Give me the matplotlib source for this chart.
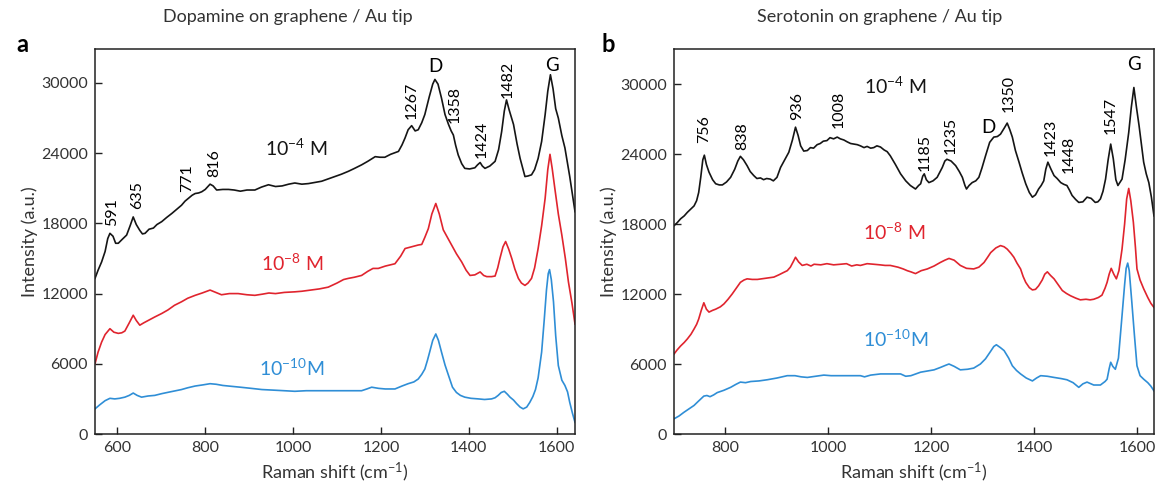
import matplotlib
matplotlib.use('Agg')
import matplotlib.pyplot as plt

plt.rcParams['font.family'] = ['Lato', 'DejaVu Sans']
plt.rcParams['mathtext.fontset'] = 'custom'
plt.rcParams['mathtext.rm'] = 'Lato'
plt.rcParams['mathtext.it'] = 'Lato'
plt.rcParams['mathtext.default'] = 'regular'

BLACK = '#151515'
RED = '#e0242e'
BLUE = '#2f8ed6'

# ---- panel a: dopamine ----
dopa_x_hi = [549, 556, 564, 572, 578, 583, 590, 596, 602, 610, 621, 629, 636, 643, 651, 657, 663,
             672, 682, 690, 701, 712, 724, 735, 746, 754, 762, 770, 777, 785, 792, 800, 811, 818,
             826, 840, 853, 866, 880, 895, 913, 928, 944, 960, 975, 990, 1004, 1020, 1035, 1050,
             1065, 1080, 1095, 1110, 1126, 1140, 1156, 1170, 1187, 1198, 1209, 1222, 1240, 1248,
             1255, 1262, 1270, 1278, 1285, 1293, 1300, 1310, 1318, 1323, 1330, 1338, 1346, 1354,
             1360, 1365, 1370, 1376, 1384, 1391, 1402, 1414, 1420, 1426, 1431, 1437, 1448, 1460,
             1468, 1475, 1481, 1486, 1492, 1502, 1510, 1517, 1528, 1535, 1543, 1550, 1558, 1566,
             1574, 1580, 1586, 1592, 1598, 1604, 1612, 1619, 1630, 1642]
dopa_y_hi = [13300, 14000, 14700, 15600, 16700, 17150, 16900, 16300, 16300, 16600, 17000, 17800,
             18550, 17900, 17400, 17100, 17150, 17500, 17600, 17900, 18150, 18500, 18850, 19200,
             19550, 19900, 20150, 20400, 20550, 20600, 20700, 20900, 21350, 21200, 20850, 20900,
             20900, 20850, 20750, 20850, 20850, 21100, 21300, 21150, 21200, 21350, 21450, 21350,
             21400, 21500, 21600, 21800, 22000, 22200, 22450, 22700, 23000, 23300, 23700, 23650,
             23650, 23900, 24150, 24700, 25300, 26000, 26350, 25900, 26000, 26600, 27300, 28800,
             29900, 30300, 29900, 28700, 27300, 26450, 25900, 25550, 24700, 23850, 23100, 22700,
             22650, 22750, 23000, 23200, 22900, 22700, 22900, 23300, 24300, 25850, 27600, 28550,
             27700, 26450, 24800, 23550, 22000, 22050, 22150, 22600, 23550, 25000, 27300, 29300,
             30700, 29500, 27800, 27000, 25500, 24450, 22000, 19000]

dopa_x_mid = [549, 556, 564, 572, 583, 592, 602, 610, 617, 627, 636, 643, 651, 660, 670, 685, 701,
              715, 730, 746, 760, 777, 793, 811, 824, 837, 855, 875, 895, 913, 930, 945, 960, 980,
              1004, 1020, 1040, 1060, 1080, 1100, 1115, 1126, 1140, 1156, 1170, 1182, 1194, 1210,
              1232, 1245, 1255, 1270, 1285, 1293, 1300, 1308, 1316, 1325, 1333, 1342, 1350, 1361,
              1372, 1384, 1394, 1403, 1414, 1426, 1434, 1441, 1452, 1460, 1466, 1471, 1478, 1484,
              1491, 1498, 1505, 1513, 1520, 1528, 1535, 1543, 1550, 1558, 1566, 1574, 1580, 1585,
              1590, 1596, 1604, 1612, 1620, 1627, 1635, 1642]
dopa_y_mid = [6000, 7000, 7850, 8500, 9000, 8700, 8600, 8650, 8800, 9500, 10150, 9700, 9300, 9500,
              9700, 10000, 10300, 10600, 11000, 11300, 11600, 11850, 12050, 12300, 12100, 11900,
              12000, 12000, 11900, 11850, 11950, 12050, 12000, 12100, 12150, 12200, 12300, 12400,
              12550, 12900, 13200, 13300, 13400, 13550, 13900, 14150, 14150, 14350, 14550, 15200,
              15850, 16000, 16150, 16200, 16800, 17550, 18800, 19700, 18800, 17450, 16900, 16150,
              15400, 14700, 14000, 13550, 13600, 13850, 13550, 13450, 13450, 13500, 14200, 15000,
              16000, 16450, 15800, 15000, 14100, 13300, 12900, 12700, 12900, 13300, 14200, 15850,
              17800, 20150, 22600, 23900, 22700, 21000, 18800, 17000, 15000, 13000, 11200, 9400]

dopa_x_lo = [549, 560, 572, 583, 594, 605, 617, 627, 636, 645, 655, 670, 685, 701, 720, 746, 760,
             777, 795, 811, 825, 840, 853, 880, 905, 929, 955, 980, 1004, 1030, 1055, 1080, 1105,
             1130, 1156, 1168, 1179, 1195, 1210, 1232, 1248, 1262, 1275, 1285, 1293, 1300, 1306,
             1311, 1318, 1325, 1331, 1338, 1346, 1354, 1363, 1372, 1381, 1391, 1405, 1422, 1436,
             1452, 1460, 1467, 1474, 1481, 1488, 1494, 1502, 1509, 1517, 1524, 1532, 1539, 1546,
             1552, 1558, 1566, 1572, 1577, 1581, 1584, 1588, 1593, 1598, 1604, 1612, 1619, 1625,
             1630, 1636, 1642]
dopa_y_lo = [2150, 2500, 2850, 3050, 3000, 3050, 3150, 3300, 3500, 3300, 3150, 3250, 3300, 3450,
             3600, 3800, 3950, 4100, 4200, 4300, 4250, 4150, 4100, 4000, 3900, 3800, 3750, 3700,
             3650, 3700, 3700, 3700, 3700, 3700, 3700, 3850, 4000, 3900, 3850, 3850, 4100, 4300,
             4450, 4700, 5100, 5550, 6300, 7000, 8000, 8550, 8000, 7000, 5900, 5000, 4000, 3550,
             3300, 3150, 3050, 3000, 2950, 3000, 3100, 3300, 3550, 3650, 3400, 3150, 2900, 2600,
             2300, 2150, 2300, 2700, 3200, 3800, 4800, 7000, 9800, 12300, 13700, 14050, 13200,
             11300, 8400, 5850, 4600, 4150, 3600, 2700, 1800, 1000]

# ---- panel b: serotonin ----
sero_x_hi = [700, 706, 713, 720, 726, 733, 739, 744, 748, 752, 756, 759, 763, 768, 775, 781, 788,
             794, 802, 810, 818, 824, 829, 835, 842, 848, 855, 861, 868, 874, 880, 887, 893, 900,
             907, 915, 923, 930, 936, 941, 946, 952, 959, 965, 971, 978, 984, 990, 997, 1003, 1010,
             1017, 1023, 1030, 1036, 1043, 1050, 1056, 1062, 1069, 1075, 1082, 1088, 1094, 1101,
             1108, 1114, 1120, 1130, 1140, 1150, 1159, 1169, 1175, 1179, 1183, 1186, 1190, 1195,
             1203, 1211, 1217, 1221, 1226, 1230, 1238, 1247, 1254, 1260, 1265, 1268, 1273, 1279,
             1286, 1292, 1298, 1305, 1313, 1321, 1328, 1334, 1341, 1347, 1352, 1357, 1363, 1370,
             1376, 1383, 1390, 1396, 1402, 1408, 1413, 1418, 1422, 1426, 1432, 1438, 1444, 1451,
             1457, 1463, 1468, 1473, 1480, 1486, 1494, 1502, 1510, 1518, 1523, 1528, 1533, 1538,
             1543, 1548, 1553, 1558, 1562, 1570, 1576, 1583, 1588, 1593, 1598, 1603, 1608, 1612,
             1617, 1622, 1627, 1632]
sero_y_hi = [17850, 18100, 18450, 18700, 19000, 19300, 19550, 20000, 20700, 22000, 23500, 23900,
             23100, 22450, 21800, 21450, 21350, 21350, 21600, 22000, 22700, 23400, 23800, 23500,
             23000, 22500, 22150, 21900, 21950, 21800, 21900, 21850, 21700, 22000, 22850, 23500,
             24150, 25200, 26300, 25600, 24700, 24250, 24300, 24550, 24500, 24800, 24900, 25100,
             25150, 25400, 25300, 25450, 25300, 25200, 25050, 24900, 24850, 24800, 24700, 24550,
             24650, 24500, 24550, 24700, 24600, 24350, 24200, 23850, 23100, 22300, 21700, 21300,
             21000, 21300, 21450, 22100, 22300, 21800, 21550, 21700, 22000, 22500, 22850, 23400,
             23550, 23400, 23000, 22500, 22000, 21300, 21000, 21300, 21550, 21700, 22000, 22800,
             23850, 25000, 25450, 25500, 25700, 26200, 26650, 26100, 25450, 24300, 23300, 22400,
             21450, 20700, 20300, 20500, 21000, 21300, 21700, 22700, 23300, 22700, 22150, 21900,
             21550, 21400, 21300, 20900, 20450, 20100, 19850, 19900, 20300, 20200, 19850, 19900,
             20150, 20800, 21850, 23500, 24850, 23600, 21800, 21300, 21850, 23500, 25850, 28000,
             29700, 28000, 26450, 24700, 23300, 22300, 21550, 20300, 18700]

sero_x_mid = [700, 706, 713, 720, 726, 733, 739, 744, 748, 753, 758, 763, 768, 775, 781, 790, 797,
              805, 813, 821, 829, 836, 842, 852, 862, 878, 894, 904, 913, 920, 926, 932, 936, 942,
              949, 958, 966, 972, 985, 997, 1010, 1023, 1035, 1045, 1055, 1062, 1075, 1088, 1100,
              1110, 1120, 1135, 1145, 1153, 1160, 1169, 1180, 1192, 1205, 1217, 1226, 1234, 1244,
              1256, 1268, 1282, 1292, 1302, 1309, 1315, 1325, 1334, 1341, 1347, 1354, 1360, 1366,
              1373, 1378, 1383, 1390, 1396, 1402, 1408, 1415, 1420, 1425, 1431, 1438, 1446, 1454,
              1462, 1470, 1480, 1489, 1500, 1508, 1515, 1524, 1531, 1537, 1541, 1545, 1549, 1554,
              1559, 1564, 1570, 1575, 1579, 1583, 1587, 1592, 1596, 1599, 1605, 1612, 1620, 1626,
              1632]
sero_y_mid = [6850, 7200, 7550, 7850, 8150, 8550, 9000, 9400, 9850, 10600, 11250, 10700, 10450,
              10600, 10700, 10900, 11150, 11550, 12000, 12500, 13000, 13200, 13300, 13250, 13250,
              13350, 13450, 13650, 13850, 14000, 14300, 14800, 15150, 14750, 14450, 14550, 14400,
              14550, 14500, 14600, 14500, 14550, 14600, 14400, 14500, 14450, 14600, 14550, 14500,
              14450, 14450, 14300, 14150, 14000, 13900, 13750, 14000, 14150, 14400, 14700, 14900,
              15050, 14900, 14450, 14200, 14150, 14300, 14700, 15150, 15550, 15950, 16150, 16050,
              15850, 15500, 15150, 14650, 14150, 13500, 13000, 12550, 12350, 12400, 12700, 13200,
              13700, 13900, 13600, 13300, 12800, 12300, 12050, 11850, 11650, 11500, 11550, 11500,
              11550, 11700, 11900, 12500, 13000, 13700, 14200, 13700, 13300, 14000, 15850, 18000,
              20150, 21050, 20000, 18150, 16000, 14150, 13200, 12450, 11700, 11200, 10850]

sero_x_lo = [700, 710, 719, 729, 739, 746, 752, 758, 764, 770, 777, 784, 797, 810, 820, 829, 839,
             849, 865, 881, 900, 920, 935, 947, 959, 975, 991, 1005, 1023, 1040, 1062, 1070, 1082,
             1101, 1120, 1130, 1140, 1150, 1160, 1179, 1192, 1205, 1217, 1228, 1234, 1244, 1256,
             1270, 1282, 1295, 1305, 1315, 1321, 1326, 1334, 1341, 1350, 1357, 1365, 1373, 1384,
             1396, 1404, 1412, 1425, 1438, 1452, 1463, 1475, 1486, 1494, 1502, 1515, 1528, 1537,
             1541, 1545, 1548, 1552, 1557, 1563, 1570, 1575, 1578, 1581, 1584, 1589, 1594, 1599,
             1605, 1612, 1620, 1626, 1632]
sero_y_lo = [1300, 1550, 1850, 2150, 2450, 2750, 3000, 3250, 3300, 3200, 3350, 3550, 3750, 4000,
             4250, 4450, 4400, 4500, 4550, 4650, 4800, 5000, 5000, 4900, 4850, 4950, 5050, 5000,
             5000, 5000, 5000, 4900, 5050, 5150, 5150, 5150, 5150, 4950, 5000, 5300, 5400, 5500,
             5700, 5900, 6000, 5800, 5500, 5550, 5650, 6000, 6450, 7100, 7500, 7650, 7400, 7150,
             6500, 5850, 5450, 5150, 4800, 4550, 4800, 5000, 4950, 4850, 4750, 4650, 4400, 4000,
             4300, 4450, 4200, 4200, 4500, 4700, 5600, 6150, 5800, 5550, 6500, 10150, 12800, 14200,
             14650, 14000, 11300, 8500, 5850, 5000, 4700, 4400, 4100, 3700]

Y_TICKS = [0, 6000, 12000, 18000, 24000, 30000]

dopa_peaks = [(587, 19000, '591'), (646, 20400, '635'), (758, 21850, '771'), (821, 23150, '816'),
              (1270, 28550, '1267'), (1369, 28150, '1358'), (1429, 25150, '1424'),
              (1488, 30300, '1482')]
sero_peaks = [(758, 26150, '756'), (832, 25550, '838'), (939, 28150, '936'), (1020, 27850, '1008'),
              (1186, 24150, '1185'), (1238, 25550, '1235'), (1350, 29150, '1350'),
              (1431, 25450, '1423'), (1467, 24000, '1448'), (1548, 27300, '1547')]


def style_axes(ax, xlim, ylim, xticks):
    ax.set_xlim(*xlim)
    ax.set_ylim(*ylim)
    ax.set_xticks(xticks)
    ax.set_yticks(Y_TICKS)
    ax.tick_params(direction='in', length=5, width=1.0, labelsize=11.5, colors='#222222',
                   labelcolor='#333333', pad=5)
    for s in ax.spines.values():
        s.set_linewidth(1.1)
        s.set_color('#222222')
    ax.set_xlabel('Raman shift (cm$^{-1}$)', fontsize=13, color='#333333', labelpad=4)
    ax.set_ylabel('Intensity (a.u.)', fontsize=13, color='#333333', labelpad=2)


fig = plt.figure(figsize=(11.6, 4.95), dpi=100)
ax1 = fig.add_axes([0.0819, 0.1232, 0.4138, 0.7778])
ax2 = fig.add_axes([0.5810, 0.1232, 0.4138, 0.7778])

# panel a
ax1.plot(dopa_x_hi, dopa_y_hi, color=BLACK, lw=1.2)
ax1.plot(dopa_x_mid, dopa_y_mid, color=RED, lw=1.2)
ax1.plot(dopa_x_lo, dopa_y_lo, color=BLUE, lw=1.2)
style_axes(ax1, (549, 1642), (0, 32900), [600, 800, 1000, 1200, 1400, 1600])
ax1.text(1008, 24400, '10$^{-4}$ M', fontsize=14, color=BLACK, ha='center', va='center')
ax1.text(997, 14600, '10$^{-8}$ M', fontsize=14, color=RED, ha='center', va='center')
ax1.text(997, 5600, '10$^{-10}$M', fontsize=14, color=BLUE, ha='center', va='center')
ax1.text(1323, 31400, 'D', fontsize=13.5, ha='center', va='center')
ax1.text(1590, 31500, 'G', fontsize=13.5, ha='center', va='center')
for x, y, s in dopa_peaks:
    ax1.text(x, y, s, rotation=90, fontsize=11.5, ha='center', va='center')

# panel b
ax2.plot(sero_x_hi, sero_y_hi, color=BLACK, lw=1.2)
ax2.plot(sero_x_mid, sero_y_mid, color=RED, lw=1.2)
ax2.plot(sero_x_lo, sero_y_lo, color=BLUE, lw=1.2)
style_axes(ax2, (700, 1632), (0, 33000), [800, 1000, 1200, 1400, 1600])
ax2.text(1130, 29850, '10$^{-4}$ M', fontsize=14, color=BLACK, ha='center', va='center')
ax2.text(1127, 17300, '10$^{-8}$ M', fontsize=14, color=RED, ha='center', va='center')
ax2.text(1130, 8150, '10$^{-10}$M', fontsize=14, color=BLUE, ha='center', va='center')
ax2.text(1311, 26300, 'D', fontsize=13.5, ha='center', va='center')
ax2.text(1593, 31700, 'G', fontsize=13.5, ha='center', va='center')
for x, y, s in sero_peaks:
    ax2.text(x, y, s, rotation=90, fontsize=11.5, ha='center', va='center')

fig.text(288 / 1160, 1 - 17 / 495, 'Dopamine on graphene / Au tip', fontsize=13, color='#333333',
         ha='center', va='center')
fig.text(880 / 1160, 1 - 17 / 495, 'Serotonin on graphene / Au tip', fontsize=13, color='#333333',
         ha='center', va='center')
fig.text(22 / 1160, 1 - 45 / 495, 'a', fontsize=17, fontweight='bold', ha='center', va='center')
fig.text(608 / 1160, 1 - 45 / 495, 'b', fontsize=17, fontweight='bold', ha='center', va='center')

fig.savefig('out.png', dpi=100)
